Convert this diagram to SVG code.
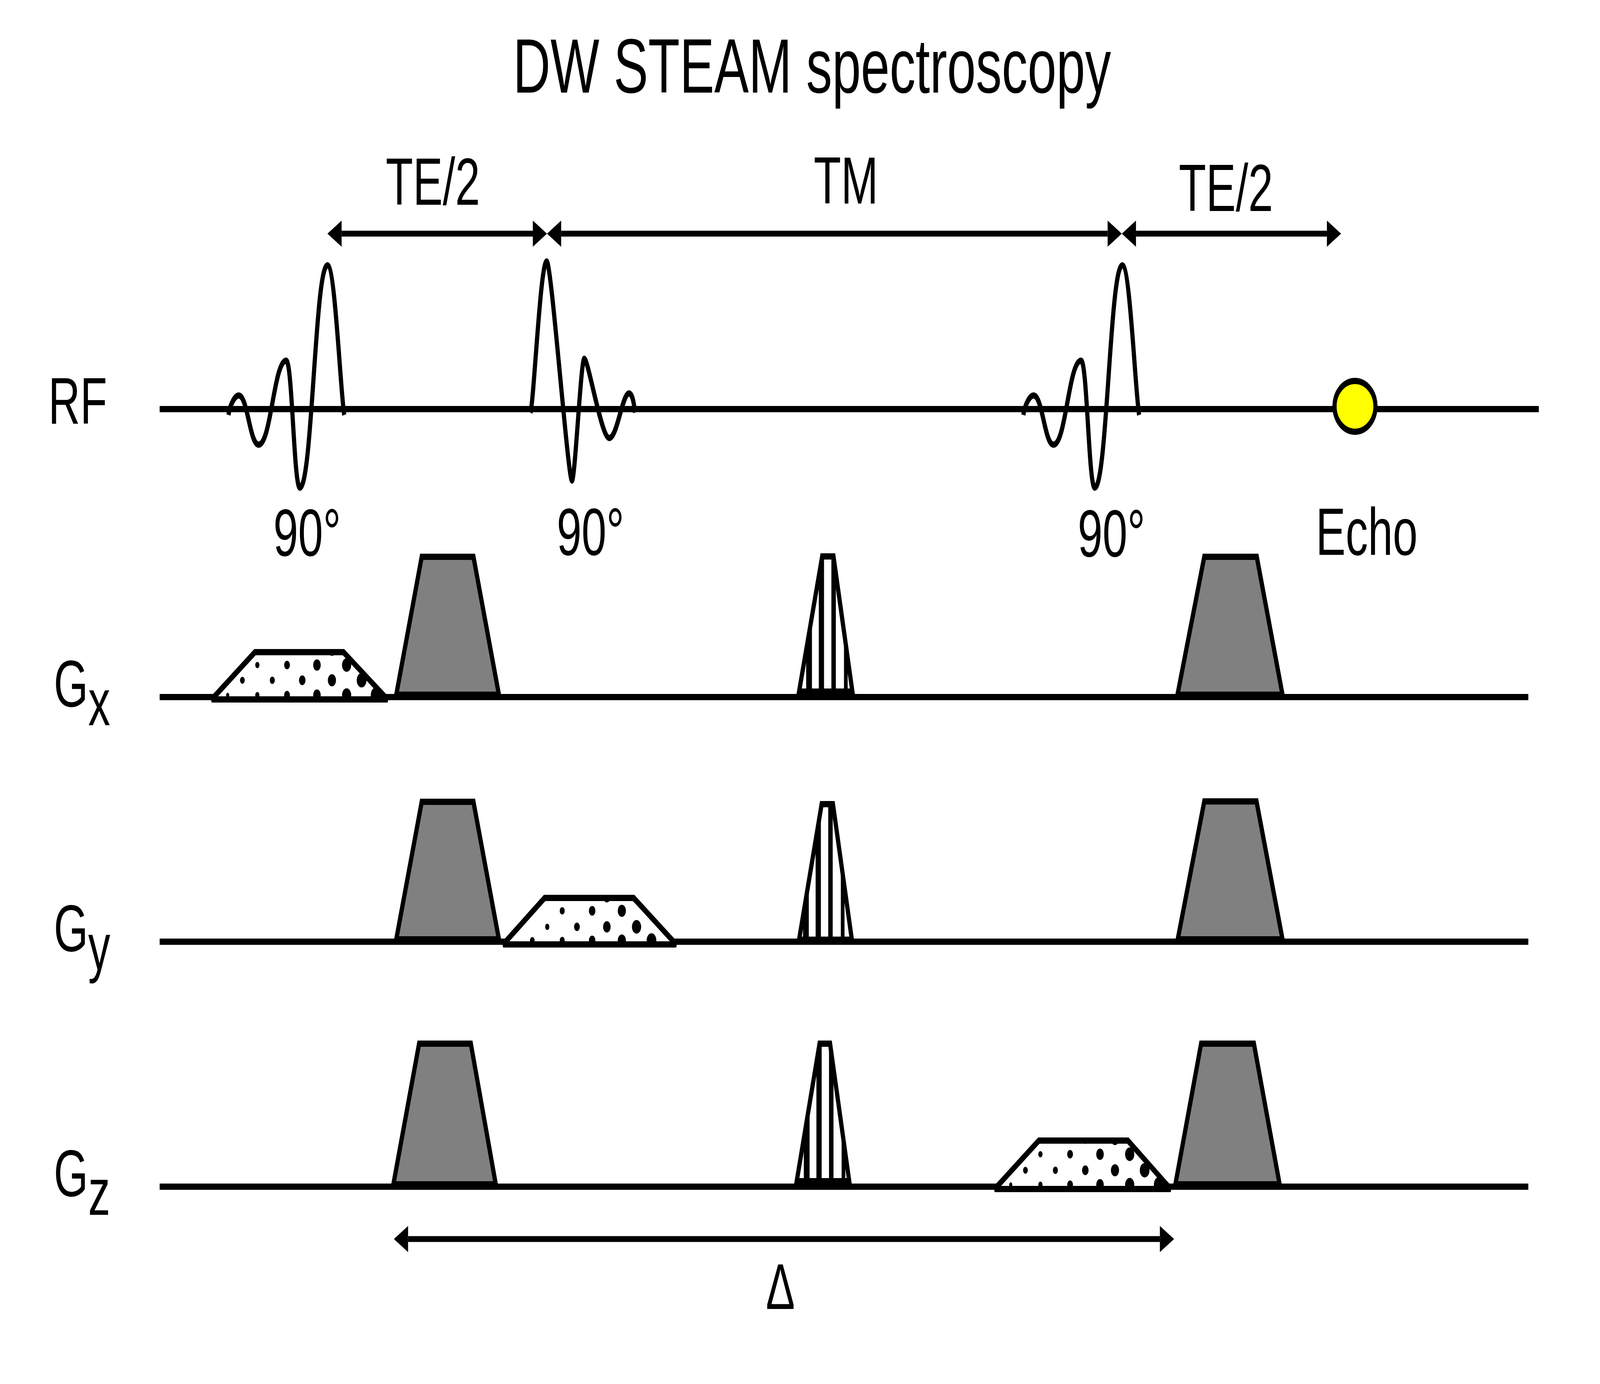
<svg xmlns="http://www.w3.org/2000/svg" width="6093" height="3542" viewBox="0 0 6093 3542" preserveAspectRatio="none">
<style>
:root{width:100vw;height:100vh}
text{font-family:"Liberation Sans",Arial,sans-serif;fill:#000}
.lbl{font-size:170px}
.axis{stroke:#000;stroke-width:16;fill:none}
.rf{stroke:#000;stroke-width:16;fill:none;stroke-linejoin:round}
.gray{fill:#808080;stroke:#000;stroke-width:16;stroke-miterlimit:2}
.white{fill:#fff;stroke:none}
.edge{fill:none;stroke:#000;stroke-width:16;stroke-miterlimit:2}
.arr{stroke:#000;stroke-width:15;fill:none;marker-start:url(#ah);marker-end:url(#ah)}
</style>
<defs>
<marker id="ah" markerUnits="userSpaceOnUse" markerWidth="54" markerHeight="67" viewBox="0 0 54 67" refX="0" refY="33.5" orient="auto-start-reverse" overflow="visible">
<path d="M0,0 L54,33.5 L0,67 Z" fill="#000"/>
</marker>
<g id="dotsA" fill="#000">
<circle cx="71" cy="0" r="6"/><circle cx="184" cy="0" r="8"/><circle cx="297" cy="0" r="11"/><circle cx="411" cy="0" r="14.5"/><circle cx="524" cy="0" r="17.5"/><circle cx="636" cy="0" r="20"/>
</g>
<g id="dotsB" fill="#000">
<circle cx="14" cy="0" r="4"/><circle cx="127" cy="0" r="9"/><circle cx="241" cy="0" r="9.5"/><circle cx="355" cy="0" r="12.5"/><circle cx="468" cy="0" r="15.5"/><circle cx="581" cy="0" r="18.5"/><circle cx="694" cy="0" r="21"/>
</g>
<g id="hbars" fill="#000">
<rect x="37" y="-400" width="22" height="400"/><rect x="85" y="-400" width="20" height="400"/><rect x="133" y="-400" width="17" height="400"/><rect x="181" y="-400" width="14" height="400"/>
</g>
<clipPath id="cDx"><polygon points="806,1790 971,1669 1308,1669 1476,1790"/></clipPath>
<clipPath id="cDy"><polygon points="1916,2417 2074,2298 2413,2298 2575,2417"/></clipPath>
<clipPath id="cDz"><polygon points="3788,3043 3956,2919 4295,2919 4458,3043"/></clipPath>
<clipPath id="cHx"><polygon points="3043,1770 3131,1424 3174,1424 3246,1770"/></clipPath>
<clipPath id="cHy"><polygon points="3043,2405 3129,2058 3172,2058 3244,2405"/></clipPath>
<clipPath id="cHz"><polygon points="3034,3023 3121,2671 3161,2671 3234,3023"/></clipPath>
</defs>
<rect width="6093" height="3542" fill="#fff"/>

<g id="title"><text x="1954" y="237" font-size="197">DW STEAM spectroscopy</text></g>

<g id="axes">
<line class="axis" x1="608" y1="1047" x2="5860" y2="1047"/>
<line class="axis" x1="608" y1="1784" x2="5820" y2="1784"/>
<line class="axis" x1="608" y1="2410" x2="5820" y2="2410"/>
<line class="axis" x1="608" y1="3037" x2="5820" y2="3037"/>
</g>

<g id="axis-labels">
<text x="184" y="1084" font-size="168">RF</text>
<text x="205" y="1808" font-size="168">G<tspan dy="48">x</tspan></text>
<text x="205" y="2434" font-size="168">G<tspan dy="48">y</tspan></text>
<text x="205" y="3061" font-size="168">G<tspan dy="48">z</tspan></text>
</g>

<g id="rf-pulse-1">
<path class="rf" d="M870,1062 C876,1035 895,1012 909,1012 C943,1012 951,1138 985,1138 C1032,1138 1043,923 1090,923 C1113,923 1119,1248 1142,1248 C1189,1248 1200,679 1247,679 C1276,679 1296,1000 1311,1062"/>
<text class="lbl" x="1041" y="1422">90°</text>
</g>
<g id="rf-pulse-2">
<path class="rf" d="M2020,1056 C2034,1020 2058,669 2082,669 C2100,669 2163,1230 2178,1230 C2190,1230 2212,918 2225,918 C2240,918 2290,1121 2320,1121 C2350,1121 2370,1007 2395,1007 C2408,1007 2414,1030 2418,1056"/>
<text class="lbl" x="2120" y="1420">90°</text>
</g>
<g id="rf-pulse-3">
<path class="rf" d="M3897,1062 C3903,1035 3922,1012 3936,1012 C3970,1012 3978,1138 4012,1138 C4059,1138 4070,923 4117,923 C4140,923 4146,1248 4169,1248 C4216,1248 4227,679 4274,679 C4303,679 4323,1000 4338,1062"/>
<text class="lbl" x="4104" y="1424">90°</text>
</g>
<g id="echo">
<ellipse cx="5160" cy="1040" rx="78" ry="65" fill="#ffff00" stroke="#000" stroke-width="16"/>
<text class="lbl" x="5011" y="1420">Echo</text>
</g>

<g id="gx-diffusion-1">
<polygon class="white" points="806,1790 971,1669 1308,1669 1476,1790"/>
<g clip-path="url(#cDx)">
<use href="#dotsA" x="796" y="1779"/><use href="#dotsB" x="796" y="1741"/><use href="#dotsA" x="796" y="1702"/><use href="#dotsB" x="796" y="1663"/>
</g>
<polygon class="edge" points="806,1790 971,1669 1308,1669 1476,1790"/>
</g>
<g id="gx-crusher-1"><polygon class="gray" points="1509,1778 1606,1425 1803,1425 1900,1778"/></g>
<g id="gx-spoiler">
<polygon class="white" points="3043,1770 3131,1424 3174,1424 3246,1770"/>
<g clip-path="url(#cHx)"><use href="#hbars" x="3033" y="1784"/></g>
<polygon class="edge" points="3043,1770 3131,1424 3174,1424 3246,1770"/>
</g>
<g id="gx-crusher-2"><polygon class="gray" points="4484,1778 4586,1425 4786,1425 4884,1778"/></g>

<g id="gy-crusher-1"><polygon class="gray" points="1509,2404 1606,2052 1803,2052 1900,2404"/></g>
<g id="gy-diffusion">
<polygon class="white" points="1916,2417 2074,2298 2413,2298 2575,2417"/>
<g clip-path="url(#cDy)">
<use href="#dotsB" x="1900" y="2407"/><use href="#dotsA" x="1900" y="2372"/><use href="#dotsB" x="1900" y="2331"/><use href="#dotsA" x="1900" y="2295"/>
</g>
<polygon class="edge" points="1916,2417 2074,2298 2413,2298 2575,2417"/>
</g>
<g id="gy-spoiler">
<polygon class="white" points="3043,2405 3129,2058 3172,2058 3244,2405"/>
<g clip-path="url(#cHy)"><use href="#hbars" x="3021" y="2410"/></g>
<polygon class="edge" points="3043,2405 3129,2058 3172,2058 3244,2405"/>
</g>
<g id="gy-crusher-2"><polygon class="gray" points="4485,2404 4586,2051 4785,2051 4884,2404"/></g>

<g id="gz-crusher-1"><polygon class="gray" points="1498,3031 1596,2671 1793,2671 1888,3031"/></g>
<g id="gz-spoiler">
<polygon class="white" points="3034,3023 3121,2671 3161,2671 3234,3023"/>
<g clip-path="url(#cHz)"><use href="#hbars" x="3024" y="3037"/></g>
<polygon class="edge" points="3034,3023 3121,2671 3161,2671 3234,3023"/>
</g>
<g id="gz-diffusion">
<polygon class="white" points="3788,3043 3956,2919 4295,2919 4458,3043"/>
<g clip-path="url(#cDz)">
<use href="#dotsA" x="3778" y="3032"/><use href="#dotsB" x="3778" y="2995"/><use href="#dotsA" x="3778" y="2954"/><use href="#dotsB" x="3778" y="2915"/>
</g>
<polygon class="edge" points="3788,3043 3956,2919 4295,2919 4458,3043"/>
</g>
<g id="gz-crusher-2"><polygon class="gray" points="4476,3031 4574,2671 4775,2671 4873,3031"/></g>

<g id="connectors">
<line class="arr" x1="1301" y1="598" x2="2029" y2="598"/>
<line class="arr" x1="2137" y1="598" x2="4218" y2="598"/>
<line class="arr" x1="4326" y1="598" x2="5053" y2="598"/>
<line class="arr" x1="1554" y1="3171" x2="4417" y2="3171"/>
</g>
<g id="interval-labels">
<text class="lbl" x="1469" y="524">TE/2</text>
<text class="lbl" x="3099" y="521">TM</text>
<text class="lbl" x="4489" y="540">TE/2</text>
<text x="2972" y="3350" font-size="165" text-anchor="middle">Δ</text>
</g>
</svg>
